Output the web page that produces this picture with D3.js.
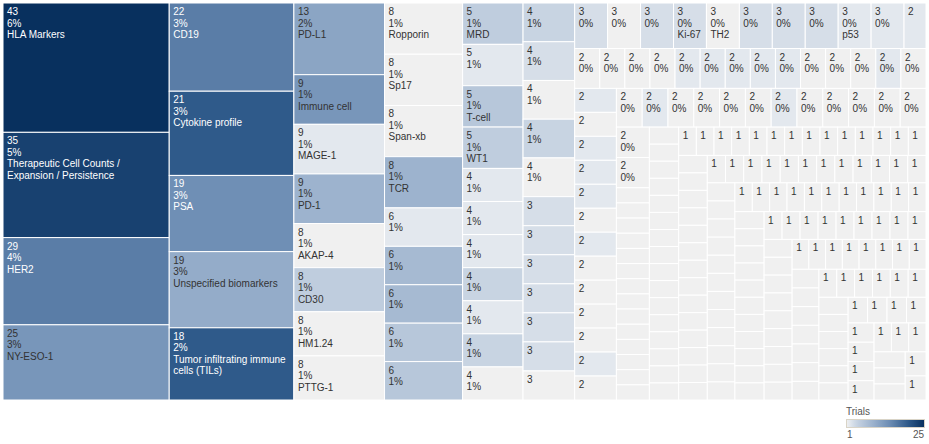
<!DOCTYPE html>
<html>
<head>
<meta charset="utf-8">
<script src="https://cdn.jsdelivr.net/npm/d3@7"></script>
<style>
  body { margin: 0; background: #fff; }
  svg { display: block; }
  text { font-family: Arial, "Liberation Sans", sans-serif; }
</style>
</head>
<body>
<script>
// biomarker names, in treemap order ("" where the label is hidden in the chart)
const names = [
  "HLA Markers", "Therapeutic Cell Counts / Expansion / Persistence", "HER2", "NY-ESO-1",
  "CD19", "Cytokine profile", "PSA", "Unspecified biomarkers", "Tumor infiltrating immune cells (TILs)",
  "PD-L1", "Immune cell", "MAGE-1", "PD-1", "AKAP-4", "CD30", "HM1.24", "PTTG-1",
  "Ropporin", "Sp17", "Span-xb", "TCR", "", "", "", "", "",
  "MRD", "", "T-cell", "WT1", "", "", "", "", "", "", "",
  "", "", "", "", "", "", "", "", "", "", "", "",
  "", "", "", "Ki-67", "TH2", "", "", "", "p53", "", ""
];

// size of each rectangle (mentions)
const counts = [
  43, 35, 29, 25,
  22, 21, 19, 19, 18,
  13, 9, 9, 9, 8, 8, 8, 8,
  8, 8, 8, 8, 6, 6, 6, 6, 6,
  5, 5, 5, 5, 4, 4, 4, 4, 4, 4, 4,
  4, 4, 4, 4, 4, 3, 3, 3, 3, 3, 3, 3,
  3, 3, 3, 3, 3, 3, 3, 3, 3, 3, 2,
  2, 2, 2, 2, 2, 2, 2, 2, 2, 2, 2, 2, 2, 2,
  2, 2, 2, 2, 2, 2, 2, 2, 2, 2, 2, 2, 2,
  2, 2, 2, 2, 2, 2, 2, 2, 2, 2, 2, 2,
  2, 2,
  1, 1, 1, 1, 1, 1, 1, 1, 1, 1, 1, 1, 1, 1, 1,
  1, 1, 1, 1, 1, 1, 1, 1, 1, 1, 1, 1, 1, 1, 1,
  1, 1, 1, 1, 1, 1, 1, 1, 1, 1, 1, 1, 1, 1, 1,
  1, 1, 1, 1, 1, 1, 1, 1, 1, 1, 1, 1, 1, 1, 1,
  1, 1, 1, 1, 1, 1, 1, 1, 1, 1, 1, 1, 1, 1, 1,
  1, 1, 1, 1, 1, 1, 1, 1, 1, 1, 1, 1, 1, 1, 1,
  1, 1, 1, 1, 1, 1, 1, 1, 1, 1, 1, 1, 1, 1, 1,
  1, 1, 1, 1, 1, 1, 1, 1, 1, 1, 1, 1, 1, 1, 1,
  1, 1, 1, 1, 1, 1, 1, 1, 1, 1, 1, 1, 1, 1, 1,
  1, 1, 1, 1, 1, 1, 1, 1, 1, 1, 1, 1, 1, 1, 1,
  1, 1, 1, 1, 1, 1, 1, 1, 1, 1, 1, 1, 1, 1, 1
];

// colour measure (number of trials)
const trials = [
  25, 23, 16, 13,
  16, 20, 14, 10, 20,
  11, 13, 2, 9, 1, 5, 1, 1,
  1, 1, 1, 9, 2, 8, 8, 6, 6,
  5, 2, 6, 5, 2, 2, 2, 4, 2, 4, 1,
  4, 3, 1, 4, 1, 3, 3, 3, 3, 3, 3, 1,
  3, 1, 3, 3, 1, 3, 3, 3, 2, 2, 2,
  1, 1, 1, 1, 2, 2, 2, 2, 2, 1, 1, 1, 2, 1,
  2, 1, 2, 2, 2, 1, 2, 1, 1, 1, 1, 2, 1,
  1, 2, 1, 1, 1, 1, 2, 1, 1, 1, 1, 1,
  1, 1,
  1, 1, 1, 1, 1, 1, 1, 1, 1, 1, 1, 1, 1, 1, 1,
  1, 1, 1, 1, 1, 1, 1, 1, 1, 1, 1, 1, 1, 1, 1,
  1, 1, 1, 1, 1, 1, 1, 1, 1, 1, 1, 1, 1, 1, 1,
  1, 1, 1, 1, 1, 1, 1, 1, 1, 1, 1, 1, 1, 1, 1,
  1, 1, 1, 1, 1, 1, 1, 1, 1, 1, 1, 1, 1, 1, 1,
  1, 1, 1, 1, 1, 1, 1, 1, 1, 1, 1, 1, 1, 1, 1,
  1, 1, 1, 1, 1, 1, 1, 1, 1, 1, 1, 1, 1, 1, 1,
  1, 1, 1, 1, 1, 1, 1, 1, 1, 1, 1, 1, 1, 1, 1,
  1, 1, 1, 1, 1, 1, 1, 1, 1, 1, 1, 1, 1, 1, 1,
  1, 1, 1, 1, 1, 1, 1, 1, 1, 1, 1, 1, 1, 1, 1,
  1, 1, 1, 1, 1, 1, 1, 1, 1, 1, 1, 1, 1, 1, 1
];

const legendTicks = [1, 25];

const width = 929, height = 444;
const box = {x: 3, y: 3, w: 923, h: 397};

const svg = d3.select("body").append("svg")
    .attr("width", width)
    .attr("height", height)
    .style("font-size", "10px");

const color = d3.scaleLinear()
    .domain([1, 2, 4, 9, 14, 20, 25])
    .range(["#f0f0f0", "#e3e8ee", "#c8d4e2", "#9db3ce", "#6f8fb5", "#2f5a8a", "#08305e"])
    .clamp(true);

const leaves = counts.map((c, i) => ({id: i, name: names[i] || "", size: c, trials: trials[i]}));
const total = d3.sum(counts);

const root = d3.hierarchy({children: leaves})
    .sum(d => d.size || 0)
    .sort((a, b) => b.value - a.value);

d3.treemap()
    .tile(d3.treemapSquarify)
    .size([box.w, box.h])(root);

const plot = svg.append("g").attr("transform", `translate(${box.x},${box.y})`);

const cell = plot.selectAll("g")
  .data(root.leaves())
  .join("g")
    .attr("transform", d => `translate(${d.x0},${d.y0})`);

cell.append("rect")
    .attr("width", d => d.x1 - d.x0)
    .attr("height", d => d.y1 - d.y0)
    .attr("fill", d => color(d.data.trials))
    .attr("stroke", "#fff")
    .attr("stroke-width", 1);

// text measuring helper
const probe = svg.append("text").attr("visibility", "hidden");
function textWidth(s) {
  probe.text(s);
  return probe.node().getComputedTextLength();
}

function wrap(name, maxW) {
  const words = name.split(" ");
  const out = [];
  let line = "";
  words.forEach(w => {
    const test = line ? line + " " + w : w;
    if (textWidth(test) <= maxW || !line) line = test;
    else { out.push(line); line = w; }
  });
  if (line) out.push(line);
  return out;
}

// a label line is only drawn when the cell has room for it
cell.each(function(d) {
  const w = d.x1 - d.x0, h = d.y1 - d.y0;
  const avail = w - 8;
  const maxLines = h >= 19 ? Math.floor((h - 19) / 10.3) + 1 : 0;
  const lines = [];
  const first = [String(d.data.size), Math.round(d.data.size / total * 100) + "%"];
  for (const s of first) {
    if (lines.length >= maxLines || textWidth(s) > avail) break;
    lines.push(s);
  }
  if (lines.length === 2 && d.data.name) {
    const nl = wrap(d.data.name, avail);
    if (nl.every(s => textWidth(s) <= avail)) {
      nl.forEach(s => { if (lines.length < maxLines) lines.push(s); });
    }
  }
  d3.select(this).selectAll("text")
    .data(lines)
    .join("text")
      .attr("x", 4)
      .attr("y", (s, i) => 12 + i * 11.5)
      .attr("fill", d.data.trials >= 14 ? "#fff" : "#333")
      .text(s => s);
});
probe.remove();

// legend
const legend = svg.append("g").attr("transform", "translate(846,405)");
legend.append("text")
    .attr("x", 0).attr("y", 10)
    .attr("fill", "#555")
    .text("Trials");

const grad = svg.append("defs").append("linearGradient").attr("id", "trialsGrad");
d3.range(0, 1.0001, 0.05).forEach(t => {
  grad.append("stop")
    .attr("offset", t)
    .attr("stop-color", color(1 + t * 24));
});
legend.append("rect")
    .attr("x", 0.5).attr("y", 14.5)
    .attr("width", 78).attr("height", 8)
    .attr("fill", "url(#trialsGrad)")
    .attr("stroke", "#d9d4c7");

const lx = d3.scaleLinear().domain([1, 25]).range([1, 78]);
legend.selectAll(".tick")
  .data(legendTicks)
  .join("text")
    .attr("class", "tick")
    .attr("x", d => lx(d))
    .attr("y", 33)
    .attr("text-anchor", (d, i) => i === 0 ? "start" : "end")
    .attr("fill", "#555")
    .text(d => d);
</script>
</body>
</html>
